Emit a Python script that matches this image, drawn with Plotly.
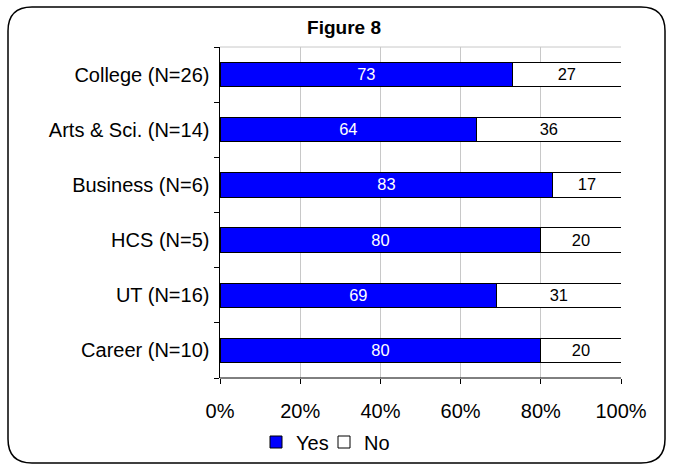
import plotly.graph_objects as go

categories = ["College (N=26)", "Arts & Sci. (N=14)", "Business (N=6)", "HCS (N=5)", "UT (N=16)", "Career (N=10)"]
yes_vals = [73, 64, 83, 80, 69, 80]
no_vals = [27, 36, 17, 20, 31, 20]

W, H = 673, 465
L, R, T, B = 220, 52, 47, 87
pw, ph = W - L - R, H - T - B

def px(x):
    return (x - L) / pw

def py(y):
    return (H - B - y) / ph

FONT = "Liberation Sans, Arial"

fig = go.Figure()
fig.add_trace(go.Bar(
    y=categories, x=yes_vals, name="Yes", orientation="h",
    marker=dict(color="#0000ff", line=dict(color="black", width=1)),
    text=[str(v) for v in yes_vals], textposition="inside", insidetextanchor="middle",
    textfont=dict(color="white", size=18, family=FONT),
    width=0.44, legend="legend",
))
fig.add_trace(go.Bar(
    y=categories, x=no_vals, name="No", orientation="h",
    marker=dict(color="white", line=dict(color="black", width=1)),
    text=[str(v) for v in no_vals], textposition="inside", insidetextanchor="middle",
    textfont=dict(color="black", size=18, family=FONT),
    width=0.44, legend="legend2",
))

# rounded outer frame
x0, x1, y0, y1, r = 8, 665, 7, 463, 24
path = (f"M {px(x0+r)},{py(y0)} L {px(x1-r)},{py(y0)} Q {px(x1)},{py(y0)} {px(x1)},{py(y0+r)} "
        f"L {px(x1)},{py(y1-r)} Q {px(x1)},{py(y1)} {px(x1-r)},{py(y1)} "
        f"L {px(x0+r)},{py(y1)} Q {px(x0)},{py(y1)} {px(x0)},{py(y1-r)} "
        f"L {px(x0)},{py(y0+r)} Q {px(x0)},{py(y0)} {px(x0+r)},{py(y0)} Z")

leg_common = dict(orientation="h", xref="container", yref="container",
                  xanchor="left", yanchor="middle",
                  font=dict(size=20), bgcolor="rgba(0,0,0,0)", itemwidth=30)

fig.update_layout(
    width=W, height=H,
    margin=dict(l=L, r=R, t=T, b=B),
    barmode="stack",
    paper_bgcolor="white", plot_bgcolor="white",
    font=dict(family=FONT, size=20, color="black"),
    title=dict(text="<b>Figure 8</b>", x=px(344), xref="paper", xanchor="center",
               y=1 - 27 / H, yanchor="middle", font=dict(size=19)),
    showlegend=True,
    legend=dict(x=256 / W, y=1 - 442 / H, **leg_common),
    legend2=dict(x=324 / W, y=1 - 442 / H, **leg_common),
    shapes=[dict(type="path", path=path, xref="paper", yref="paper",
                 line=dict(color="black", width=1.5), layer="below")],
    uniformtext=dict(mode="show", minsize=10),
)
fig.update_xaxes(range=[0, 100], tickvals=[0, 20, 40, 60, 80, 100],
                 ticktext=["0%", "20%", "40%", "60%", "80%", "100%"],
                 showgrid=True, gridcolor="#c8c8c8", gridwidth=1,
                 ticks="outside", ticklen=5, tickcolor="black",
                 showline=False, zeroline=False, mirror=False, automargin=False,
                 tickfont=dict(size=20), ticklabelstandoff=10)
fig.update_yaxes(categoryorder="array", categoryarray=categories[::-1],
                 tickson="boundaries", ticks="outside", ticklen=5, tickcolor="black",
                 showline=True, linecolor="black", linewidth=1, automargin=False,
                 showgrid=False, tickfont=dict(size=20), ticksuffix=" ")
fig.add_shape(type="line", xref="paper", yref="paper", x0=0, x1=1, y0=0, y1=0,
              line=dict(color="black", width=1))
fig.add_shape(type="line", xref="paper", yref="paper", x0=0, x1=1, y0=1, y1=1,
              line=dict(color="#c8c8c8", width=1))
fig.write_html("out.html")
